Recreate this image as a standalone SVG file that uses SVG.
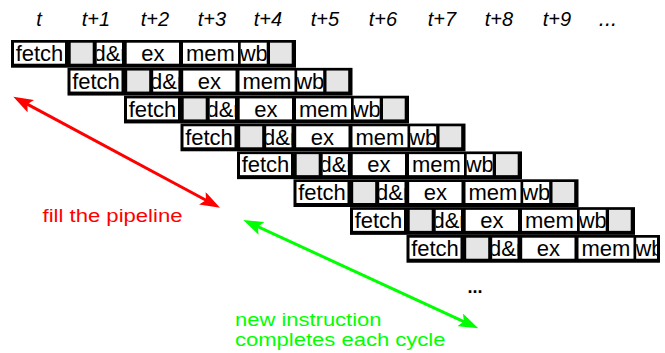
<svg xmlns="http://www.w3.org/2000/svg" width="665" height="353" viewBox="0 0 665 353">
<style>
.bk{fill:#000}
.w{fill:#fff}
.g{fill:#e5e5e5}
.ct{font-family:"Liberation Sans",Arial,sans-serif;font-size:22px;fill:#000;text-anchor:middle}
.cs{font-family:"Liberation Sans",Arial,sans-serif;font-size:22px;fill:#000}
.tl{font-family:"Liberation Sans",Arial,sans-serif;font-size:20px;font-style:italic;fill:#000;text-anchor:middle}
.ann{font-family:"Liberation Sans",Arial,sans-serif;font-size:18px}
</style>
<defs>
<marker id="ahR" viewBox="0 0 20 14" refX="10" refY="7" markerWidth="20" markerHeight="14" markerUnits="userSpaceOnUse" orient="auto-start-reverse">
<path d="M0,0 L20,7 L0,14 L4,7 Z" fill="#ff0000"/>
</marker>
<marker id="ahG" viewBox="0 0 20 14" refX="10" refY="7" markerWidth="20" markerHeight="14" markerUnits="userSpaceOnUse" orient="auto-start-reverse">
<path d="M0,0 L20,7 L0,14 L4,7 Z" fill="#00ff00"/>
</marker>
<g id="rowcells">
<rect class="bk" x="0" y="0" width="285" height="27.7"/>
<rect class="w" x="3" y="2.7" width="51" height="21"/>
<rect class="g" x="59.7" y="2.7" width="22" height="21"/>
<rect class="w" x="85.7" y="2.7" width="25.3" height="21"/>
<rect class="w" x="115.7" y="2.7" width="52.3" height="21"/>
<rect class="w" x="172" y="2.7" width="55" height="21"/>
<rect class="w" x="229.7" y="2.7" width="26" height="21"/>
<rect class="g" x="259" y="2.7" width="21.7" height="21"/>
<text class="ct" x="28.5" y="21">fetch</text>
<svg x="85.7" y="2.7" width="25.3" height="21"><text class="cs" x="-3.3" y="18.3">d&amp;r</text></svg>
<text class="ct" x="141.85" y="21">ex</text>
<text class="ct" x="199.5" y="21">mem</text>
<svg x="229.7" y="2.7" width="26" height="21"><text class="ct" x="13" y="18.3">wb</text></svg>
</g>
</defs>

<g id="time-labels">
<text class="tl" x="39" y="26">t</text>
<text class="tl" x="96" y="26">t+1</text>
<text class="tl" x="155" y="26">t+2</text>
<text class="tl" x="212" y="26">t+3</text>
<text class="tl" x="268" y="26">t+4</text>
<text class="tl" x="325" y="26">t+5</text>
<text class="tl" x="383" y="26">t+6</text>
<text class="tl" x="442" y="26">t+7</text>
<text class="tl" x="499" y="26">t+8</text>
<text class="tl" x="557" y="26">t+9</text>
<text class="tl" x="608" y="26" style="font-size:22px">...</text>
</g>

<g id="instr1"><use href="#rowcells" transform="translate(11,40)"/></g>
<g id="instr2"><use href="#rowcells" transform="translate(67.5,67.86)"/></g>
<g id="instr3"><use href="#rowcells" transform="translate(124,95.72)"/></g>
<g id="instr4"><use href="#rowcells" transform="translate(180.5,123.58)"/></g>
<g id="instr5"><use href="#rowcells" transform="translate(237,151.44)"/></g>
<g id="instr6"><use href="#rowcells" transform="translate(293.5,179.3)"/></g>
<g id="instr7"><use href="#rowcells" transform="translate(350,207.16)"/></g>
<g id="instr8" transform="translate(406.5,235.02)">
<rect class="bk" x="0" y="0" width="253.5" height="27.7"/>
<rect class="w" x="3" y="2.7" width="51" height="21"/>
<rect class="g" x="59.7" y="2.7" width="22" height="21"/>
<rect class="w" x="85.7" y="2.7" width="25.3" height="21"/>
<rect class="w" x="115.7" y="2.7" width="52.3" height="21"/>
<rect class="w" x="172" y="2.7" width="55" height="21"/>
<rect class="w" x="229.7" y="2.7" width="20.8" height="21"/>
<text class="ct" x="28.5" y="21">fetch</text>
<svg x="85.7" y="2.7" width="25.3" height="21"><text class="cs" x="-3.3" y="18.3">d&amp;r</text></svg>
<text class="ct" x="141.85" y="21">ex</text>
<text class="ct" x="199.5" y="21">mem</text>
<svg x="229.7" y="2.7" width="20.8" height="21"><text class="cs" x="-0.8" y="18.3">wb</text></svg>
</g>

<g id="more"><text x="475" y="293" font-family="Liberation Sans, Arial, sans-serif" font-size="18" font-weight="bold" text-anchor="middle" fill="#000">...</text></g>

<g id="connectors">
<line x1="22.1" y1="101.4" x2="211.2" y2="203.0" stroke="#ff0000" stroke-width="3" marker-start="url(#ahR)" marker-end="url(#ahR)"/>
<line x1="252.4" y1="224.2" x2="469.2" y2="324.1" stroke="#00ff00" stroke-width="3" marker-start="url(#ahG)" marker-end="url(#ahG)"/>
</g>

<g id="fill-label"><text class="ann" x="42.5" y="221.5" fill="#ff0000" textLength="140" lengthAdjust="spacingAndGlyphs">fill the pipeline</text></g>
<g id="complete-label">
<text class="ann" x="235" y="326" fill="#00ff00" textLength="146.5" lengthAdjust="spacingAndGlyphs">new instruction</text>
<text class="ann" x="235" y="346" fill="#00ff00" textLength="210.5" lengthAdjust="spacingAndGlyphs">completes each cycle</text>
</g>
</svg>
